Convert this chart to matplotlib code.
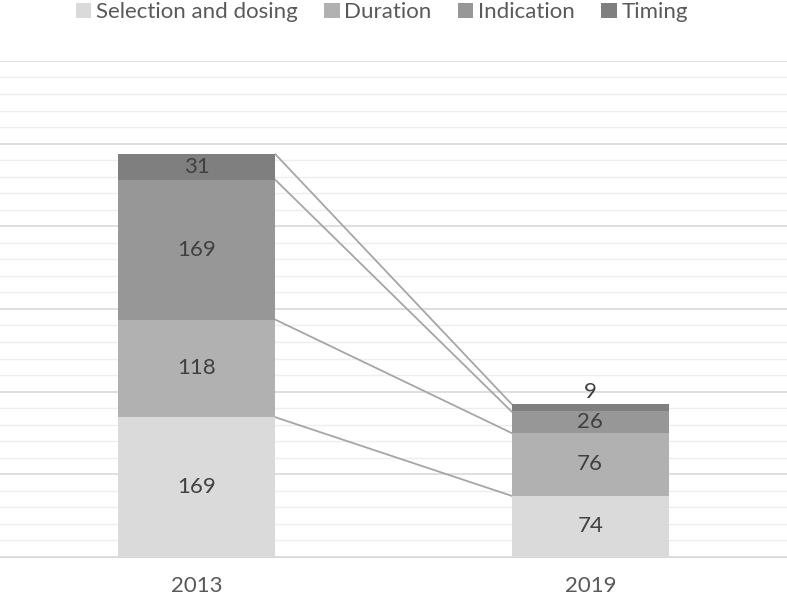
import matplotlib
matplotlib.use("Agg")
import matplotlib.pyplot as plt
import numpy as np

years = ["2013", "2019"]
series = ["Selection and dosing", "Duration", "Indication", "Timing"]
selection = [169, 74]
duration = [118, 76]
indication = [169, 26]
timing = [31, 9]
colors = ["#dadada", "#b1b1b1", "#979797", "#7f7f7f"]

plt.rcParams["font.family"] = ["Lato", "DejaVu Sans"]

fig = plt.figure(figsize=(7.87, 5.97), dpi=100)
ax = fig.add_axes([0, 0.067, 1, 0.831])

x = np.arange(len(years))
width = 0.4
values = [selection, duration, indication, timing]
bottom = np.zeros(len(years))
tops = []
for name, vals, col in zip(series, values, colors):
    vals = np.array(vals, dtype=float)
    ax.bar(x, vals, width, bottom=bottom, color=col, label=name, zorder=3)
    for xi, b, v in zip(x, bottom, vals):
        if v < 15:
            ax.text(xi, b + v + 2, f"{int(v)}", ha="center", va="bottom",
                    fontsize=16, color="#404040", zorder=4)
        else:
            ax.text(xi, b + v / 2, f"{int(v)}", ha="center", va="center",
                    fontsize=16, color="#404040", zorder=4)
    bottom = bottom + vals
    tops.append(bottom.copy())

# series lines between the stacked tops
for t in tops:
    ax.plot([x[0] + width / 2, x[1] - width / 2], [t[0], t[1]],
            color="#a6a6a6", lw=1.3, zorder=2)

ax.set_xlim(-0.5, 1.5)
ax.set_ylim(0, 600)
ax.set_yticks(np.arange(0, 601, 100))
ax.set_yticks(np.arange(0, 601, 20), minor=True)
ax.grid(axis="y", which="major", color="#d9d9d9", lw=1.2, zorder=0)
ax.grid(axis="y", which="minor", color="#eeeeee", lw=1.0, zorder=0)
ax.tick_params(axis="y", which="both", left=False, labelleft=False)
ax.set_xticks(x)
ax.set_xticklabels(years, fontsize=16, color="#595959")
ax.tick_params(axis="x", length=0, pad=14)
for s in ["top", "right", "left"]:
    ax.spines[s].set_visible(False)
ax.spines["bottom"].set_color("#d9d9d9")

ax.legend(loc="center", bbox_to_anchor=(0.485, 1.098), ncol=4, frameon=False,
          fontsize=16, handlelength=0.7, handleheight=0.7, handletextpad=0.2,
          columnspacing=1.2, labelcolor="#595959")

fig.savefig("out.png", dpi=100)
